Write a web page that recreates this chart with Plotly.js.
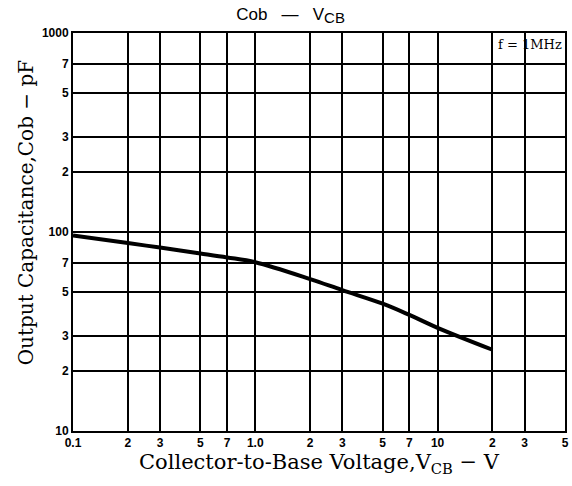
<!DOCTYPE html>
<html>
<head>
<meta charset="utf-8">
<script src="https://cdn.plot.ly/plotly-3.0.1.min.js"></script>
<style>html,body{margin:0;padding:0;background:#fff;}#chart{width:572px;height:486px;}</style>
</head>
<body>
<div id="chart"></div>
<script>
// Data
const vcb = [0.1, 0.2, 0.3, 0.5, 0.7, 1.0, 2, 3, 5, 7, 10, 20];
const cob = [96, 88, 83.5, 78, 74.5, 70.5, 58, 51, 43.6, 38.3, 33, 25.6];

const xTickVals = [0.1, 0.2, 0.3, 0.5, 0.7, 1, 2, 3, 5, 7, 10, 20, 30, 50];
const xTickText = ["0.1", "2", "3", "5", "7", "1.0", "2", "3", "5", "7", "10", "2", "3", "5"];
const yTickVals = [10, 20, 30, 50, 70, 100, 200, 300, 500, 700, 1000];
const yTickText = ["10", "2", "3", "5", "7", "100", "2", "3", "5", "7", "1000"];

const trace = {
  x: vcb, y: cob, type: 'scatter', mode: 'lines',
  line: {color: '#000', width: 4, shape: 'spline', smoothing: 1},
  hoverinfo: 'skip', showlegend: false
};

const tickFont = {family: 'Liberation Sans, Arial, sans-serif', size: 12, color: '#000', weight: 'bold'};
const serif = 'DejaVu Serif, Liberation Serif, serif';

const layout = {
  width: 572, height: 486,
  margin: {l: 73, r: 7, t: 33, b: 55},
  paper_bgcolor: '#fff', plot_bgcolor: '#fff',
  title: {text: 'Cob&nbsp;&nbsp;&nbsp;—&nbsp;&nbsp;&nbsp;V<sub><span style="font-size:15px">CB</span></sub>',
          font: {family: 'Liberation Sans, Arial, sans-serif', size: 17, color: '#000'},
          x: 0.508, xanchor: 'center', y: 0.972, yanchor: 'middle'},
  xaxis: {
    type: 'log', range: [-1, Math.log10(50)],
    tickmode: 'array', tickvals: xTickVals, ticktext: xTickText, tickfont: tickFont,
    showgrid: true, gridcolor: '#000', gridwidth: 2,
    showline: true, linecolor: '#000', linewidth: 2, mirror: true,
    ticks: '', zeroline: false,
    title: {text: 'Collector-to-Base Voltage,V<sub>CB</sub> − V', font: {family: serif, size: 21, color: '#000'}, standoff: 5}
  },
  yaxis: {
    type: 'log', range: [1, 3],
    tickmode: 'array', tickvals: yTickVals, ticktext: yTickText, tickfont: tickFont,
    showgrid: true, gridcolor: '#000', gridwidth: 2,
    showline: true, linecolor: '#000', linewidth: 2, mirror: true,
    ticks: '', zeroline: false
  },
  annotations: [
    {text: 'Output Capacitance,Cob − pF', textangle: -90, xref: 'paper', yref: 'paper',
     x: -0.095, y: 0.55, xanchor: 'center', yanchor: 'middle', showarrow: false,
     font: {family: serif, size: 20, color: '#000'}},
    {text: 'f = 1MHz', xref: 'paper', yref: 'paper', x: 0.997, y: 0.97, xanchor: 'right', yanchor: 'middle',
     showarrow: false, font: {family: serif, size: 13, color: '#000'}}
  ]
};

Plotly.newPlot('chart', [trace], layout, {staticPlot: true, displayModeBar: false});
</script>
</body>
</html>
